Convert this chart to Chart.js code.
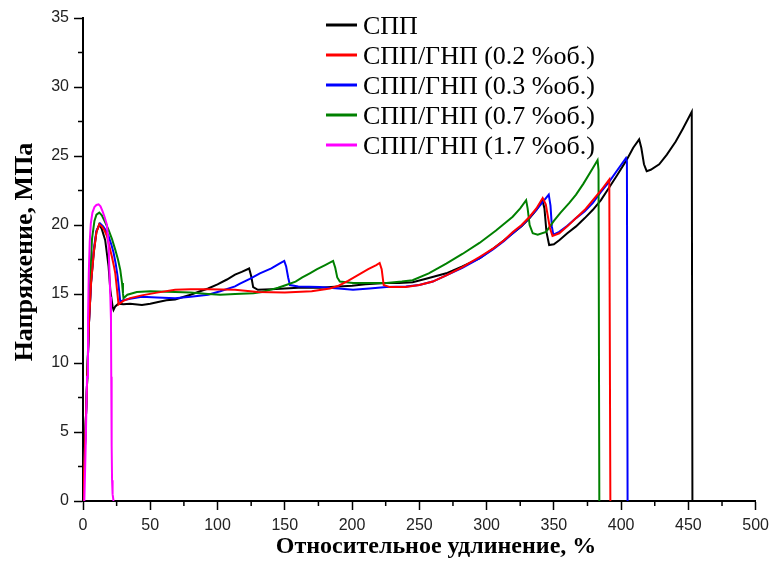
<!DOCTYPE html>
<html>
<head>
<meta charset="utf-8">
<script src="https://cdn.jsdelivr.net/npm/chart.js@4.4.1/dist/chart.umd.min.js"></script>
<style>
  html, body { margin: 0; padding: 0; background: #fff; }
  #wrap { width: 775px; height: 563px; }
</style>
</head>
<body>
<div id="wrap"><canvas id="chart" width="775" height="563"></canvas></div>
<script>
// series: elongation (%) and stress (MPa)
const labels = ['СПП', 'СПП/ГНП (0.2 %об.)', 'СПП/ГНП (0.3 %об.)', 'СПП/ГНП (0.7 %об.)', 'СПП/ГНП (1.7 %об.)'];
const colors = ['#000000', '#ff0000', '#0000ff', '#008000', '#ff00ff'];

const sppX = [0, 1.5, 3, 4.5, 6, 8, 10, 12.1, 14, 16.5, 19, 20.3, 22, 22.7, 24, 26.4, 30, 35, 43.8, 50, 55, 62, 68.5, 75, 80, 87, 93, 100, 107, 113, 118, 123.5, 125, 126.5, 130, 140, 150, 160, 176, 190, 200, 210, 225, 235, 245, 255, 270, 282, 295, 305, 313, 319.5, 326, 332, 337, 341.5, 343, 344.5, 346.5, 350, 354, 360, 366.5, 373, 379, 385, 391, 397, 404, 409, 413.4, 415, 417, 419, 422, 428.3, 434, 440.6, 446, 452.5, 453];
const sppY = [0, 4, 8.5, 13, 15.8, 18.0, 19.5, 20.05, 19.7, 18.9, 17.0, 15.3, 14.1, 13.85, 14.1, 14.3, 14.25, 14.3, 14.2, 14.3, 14.4, 14.55, 14.6, 14.8, 14.95, 15.2, 15.4, 15.7, 16.05, 16.4, 16.6, 16.85, 16.3, 15.5, 15.3, 15.35, 15.4, 15.45, 15.45, 15.55, 15.6, 15.7, 15.8, 15.8, 15.85, 16.1, 16.5, 17.0, 17.6, 18.3, 18.9, 19.4, 19.9, 20.5, 21.1, 21.8, 21.2, 19.5, 18.55, 18.6, 18.9, 19.4, 19.9, 20.5, 21.1, 21.8, 22.7, 23.6, 24.7, 25.6, 26.2, 25.6, 24.4, 23.9, 24.0, 24.4, 25.1, 26.05, 27.0, 28.2, 0];

const gnp02X = [0, 1.5, 3, 4.5, 6, 8, 10, 12.1, 14, 16, 17.8, 19.5, 21.5, 23, 24, 25.3, 26.4, 30, 35, 43.7, 55, 68.5, 80, 93, 113, 130, 150, 170, 183.5, 190, 197, 205, 212, 218, 220.5, 222, 223.5, 228, 240, 250, 260, 270, 282, 295, 305, 313, 319.5, 326, 332, 337, 341.7, 344, 347, 349, 354, 360, 366.5, 373, 379, 385, 391.2, 392];
const gnp02Y = [0, 4, 8.5, 13, 15.8, 18.0, 19.5, 20.05, 19.9, 19.6, 19.2, 18.5, 17.7, 17.0, 16.5, 15.3, 14.25, 14.5, 14.7, 14.9, 15.1, 15.3, 15.35, 15.35, 15.3, 15.15, 15.1, 15.2, 15.4, 15.6, 15.95, 16.4, 16.8, 17.1, 17.25, 16.8, 15.65, 15.5, 15.5, 15.65, 15.9, 16.35, 16.95, 17.7, 18.3, 18.9, 19.5, 20.0, 20.6, 21.2, 21.95, 21.5, 19.8, 19.2, 19.4, 19.9, 20.5, 21.1, 21.8, 22.5, 23.3, 0];

const gnp03X = [0, 1.5, 3, 4.5, 6, 8, 10, 12.8, 15, 17, 19, 21, 22.7, 24.3, 25.7, 26.8, 27.7, 30, 35, 43.8, 55, 68.5, 80, 93, 102, 113, 116.7, 124, 131.5, 140, 146, 149.6, 151, 152.5, 153.8, 160, 176, 190, 200.7, 213, 225.5, 240, 250, 260, 270, 282, 295, 305, 313, 319.5, 326, 332, 337, 342, 346.2, 347.5, 348.5, 349.6, 354, 360, 366.5, 373, 379, 385, 391.2, 397, 403.6, 404.3, 404.8];
const gnp03Y = [0, 4, 8.5, 13, 15.9, 18.2, 19.6, 20.1, 19.9, 19.6, 19.2, 18.6, 18.0, 17.2, 16.3, 15.3, 14.45, 14.55, 14.65, 14.8, 14.75, 14.7, 14.8, 14.95, 15.2, 15.55, 15.75, 16.1, 16.5, 16.85, 17.2, 17.4, 17.0, 16.2, 15.65, 15.55, 15.5, 15.4, 15.3, 15.4, 15.5, 15.55, 15.65, 15.9, 16.35, 16.9, 17.6, 18.25, 18.85, 19.4, 19.95, 20.55, 21.1, 21.7, 22.2, 21.4, 19.9, 19.3, 19.5, 19.95, 20.5, 21.0, 21.6, 22.4, 23.15, 23.95, 24.85, 24.6, 0];

const gnp07X = [0, 1.5, 3, 4.3, 5.5, 6.7, 8.5, 10, 12.1, 14, 16.5, 19, 21.5, 24, 26, 27.7, 29, 29.7, 30.1, 33, 40, 50, 68.5, 80, 93, 102, 113, 126.6, 133, 139, 145, 151, 158, 163, 168.6, 174, 180, 185.9, 187.5, 189, 190.9, 200.7, 213, 225.5, 237, 245, 257, 270, 282, 294.7, 307, 319.4, 325, 329.4, 330.5, 332, 334.3, 338, 344.2, 350, 355, 361.5, 366.5, 372, 378.8, 382.5, 383.2, 383.8];
const gnp07Y = [0, 4, 8.5, 13, 16.5, 19.0, 20.3, 20.75, 20.9, 20.7, 20.2, 19.65, 19.0, 18.2, 17.5, 16.75, 15.8, 15.05, 14.7, 14.95, 15.15, 15.2, 15.15, 15.1, 15.0, 14.95, 15.0, 15.05, 15.15, 15.3, 15.45, 15.65, 15.9, 16.2, 16.5, 16.8, 17.1, 17.4, 16.9, 16.2, 15.9, 15.8, 15.8, 15.8, 15.9, 16.0, 16.5, 17.2, 17.9, 18.7, 19.6, 20.6, 21.2, 21.8, 21.2, 20.0, 19.4, 19.3, 19.5, 20.3, 20.9, 21.6, 22.2, 23.0, 24.1, 24.7, 24.0, 0];

const gnp17X = [1, 2, 3, 3.7, 4.3, 5, 5.8, 7, 8.5, 10, 11.6, 13, 14.5, 16, 17.8, 19, 19.7, 20.3, 20.8, 21.0, 21.3, 21.6, 22, 22.7];
const gnp17Y = [0, 4, 9, 13.1, 16.5, 18.8, 20.1, 20.9, 21.3, 21.45, 21.5, 21.35, 21.0, 20.6, 20.0, 18.5, 16.5, 14.8, 13.1, 9, 4, 1.5, 0.5, 0];

const seriesX = [sppX, gnp02X, gnp03X, gnp07X, gnp17X];
const seriesY = [sppY, gnp02Y, gnp03Y, gnp07Y, gnp17Y];
const drawOrder = [5, 2, 4, 3, 1];

// axis ticks
const xTicks = [0, 50, 100, 150, 200, 250, 300, 350, 400, 450, 500];
const yTicks = [0, 5, 10, 15, 20, 25, 30, 35];
const xMinor = [25, 75, 125, 175, 225, 275, 325, 375, 425, 475];
const yMinor = [2.5, 7.5, 12.5, 17.5, 22.5, 27.5, 32.5];

const xTitle = 'Относительное удлинение, %';
const yTitle = 'Напряжение, МПа';

const datasets = labels.map((label, i) => ({
    label: label,
    data: seriesX[i].map((x, j) => ({ x: x, y: seriesY[i][j] })),
    borderColor: colors[i],
    backgroundColor: colors[i],
    borderWidth: 2,
    pointRadius: 0,
    showLine: true,
    tension: 0,
    order: drawOrder[i]
}));

// minor ticks, axis titles and the legend box
const extras = {
    id: 'extras',
    afterDraw(chart) {
        const ctx = chart.ctx;
        const xs = chart.scales.x;
        const ys = chart.scales.y;
        const area = chart.chartArea;
        ctx.save();
        ctx.strokeStyle = '#000';
        ctx.lineWidth = 1.5;
        ctx.beginPath();
        xMinor.forEach(v => {
            const px = xs.getPixelForValue(v);
            ctx.moveTo(px, area.bottom);
            ctx.lineTo(px, area.bottom + 5);
        });
        yMinor.forEach(v => {
            const py = ys.getPixelForValue(v);
            ctx.moveTo(area.left, py);
            ctx.lineTo(area.left - 5, py);
        });
        ctx.stroke();

        ctx.fillStyle = '#000';
        ctx.font = 'bold 24px "Liberation Serif", "Times New Roman", serif';
        ctx.textAlign = 'center';
        ctx.textBaseline = 'alphabetic';
        ctx.fillText(xTitle, 436, 553);
        ctx.save();
        ctx.translate(32, 252);
        ctx.rotate(-Math.PI / 2);
        ctx.font = 'bold 26px "Liberation Serif", "Times New Roman", serif';
        ctx.fillText(yTitle, 0, 0);
        ctx.restore();

        ctx.font = '26px "Liberation Serif", "Times New Roman", serif';
        ctx.textAlign = 'left';
        chart.data.datasets.forEach((ds, i) => {
            const rowY = 25 + i * 30;
            ctx.strokeStyle = ds.borderColor;
            ctx.lineWidth = 3;
            ctx.beginPath();
            ctx.moveTo(326, rowY);
            ctx.lineTo(357, rowY);
            ctx.stroke();
            ctx.fillStyle = '#000';
            ctx.fillText(ds.label, 363, rowY + 9);
        });
        ctx.restore();
    }
};

const tickFont = { family: '"Liberation Sans", Arial, sans-serif', size: 16 };

new Chart(document.getElementById('chart').getContext('2d'), {
    type: 'scatter',
    data: { datasets: datasets },
    options: {
        responsive: false,
        animation: false,
        layout: { padding: { top: 18, right: 18, left: 0, bottom: 0 } },
        plugins: {
            legend: { display: false },
            tooltip: { enabled: false }
        },
        scales: {
            x: {
                type: 'linear',
                min: 0,
                max: 500,
                afterFit: (scale) => { scale.height = 62; },
                afterBuildTicks: (scale) => { scale.ticks = xTicks.map(v => ({ value: v })); },
                grid: { drawOnChartArea: false, drawTicks: true, tickLength: 9, tickColor: '#000', tickWidth: 1.5 },
                border: { display: true, color: '#000', width: 2 },
                ticks: { font: tickFont, color: '#222', padding: 6, maxRotation: 0, autoSkip: false }
            },
            y: {
                type: 'linear',
                min: 0,
                max: 35,
                afterFit: (scale) => { scale.width = 83; },
                afterBuildTicks: (scale) => { scale.ticks = yTicks.map(v => ({ value: v })); },
                grid: { drawOnChartArea: false, drawTicks: true, tickLength: 9, tickColor: '#000', tickWidth: 1.5 },
                border: { display: true, color: '#000', width: 2 },
                ticks: { font: tickFont, color: '#222', padding: 5, autoSkip: false }
            }
        }
    },
    plugins: [extras]
});
</script>
</body>
</html>
